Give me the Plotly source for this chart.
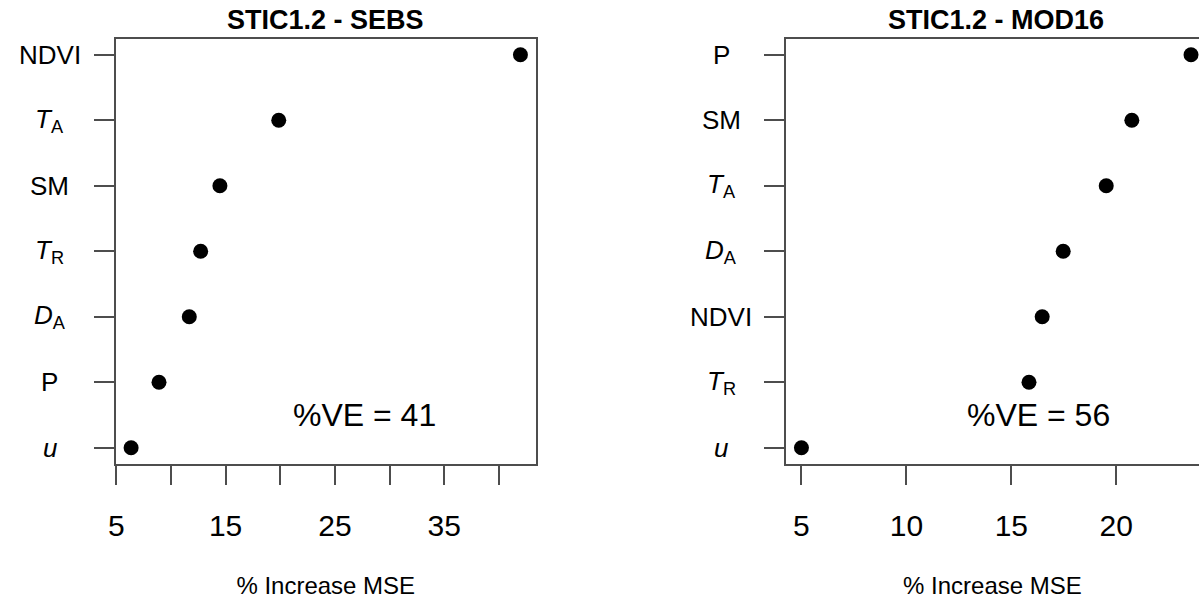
import plotly.graph_objects as go

# ---- data (top-to-bottom order as shown) ----
sebs_labels = ["NDVI", "<i>T</i><sub>A</sub>", "SM", "<i>T</i><sub>R</sub>", "<i>D</i><sub>A</sub>", "P", "<i>u</i>"]
sebs_values = [41.96, 19.86, 14.48, 12.72, 11.68, 8.91, 6.36]

mod16_labels = ["P", "SM", "<i>T</i><sub>A</sub>", "<i>D</i><sub>A</sub>", "NDVI", "<i>T</i><sub>R</sub>", "<i>u</i>"]
mod16_values = [23.56, 20.74, 19.52, 17.47, 16.47, 15.84, 5.00]

sebs_ticks = [5, 15, 25, 35]          # labelled ticks (unlabelled ticks every 5 in between)
mod16_ticks = [5, 10, 15, 20]

titles = ["STIC1.2 - SEBS", "STIC1.2 - MOD16"]
ve_texts = ["%VE = 41", "%VE = 56"]
xlabel = "% Increase MSE"

FONT = "Liberation Sans, Arial, sans-serif"
LINE = "#4d4d4d"

W, H = 1199, 606
def px_x(p):
    return p / W
def px_y(p):
    return (H - p) / H

fig = go.Figure()

fig.add_trace(go.Scatter(
    x=sebs_values, y=sebs_labels, mode="markers",
    marker=dict(size=15, color="black"), xaxis="x", yaxis="y", showlegend=False))
fig.add_trace(go.Scatter(
    x=mod16_values, y=mod16_labels, mode="markers",
    marker=dict(size=15, color="black"), xaxis="x2", yaxis="y2", showlegend=False))

ydom = [px_y(463.5), px_y(39)]

common_x = dict(showgrid=False, zeroline=False, showline=True, linecolor=LINE, linewidth=1.5,
                ticks="outside", ticklen=20, tickwidth=1.5, tickcolor=LINE,
                ticklabelstandoff=15,
                tickfont=dict(family=FONT, size=30, color="black"),
                title=dict(text=xlabel, font=dict(family=FONT, size=24, color="black"), standoff=36))
common_y = dict(showgrid=False, zeroline=False, showline=True, linecolor=LINE, linewidth=1.5,
                ticks="outside", ticklen=20, tickwidth=1.5, tickcolor=LINE,
                showticklabels=False, type="category", range=[-0.24, 6.24], domain=ydom)

fig.update_layout(
    width=W, height=H, margin=dict(l=0, r=0, t=0, b=0),
    plot_bgcolor="white", paper_bgcolor="white",
    xaxis=dict(domain=[px_x(108.3), px_x(531.5)], range=[4.94, 43.38],
               tickvals=sebs_ticks,
               minor=dict(tick0=5, dtick=5, ticks="outside", ticklen=20, tickwidth=1.5,
                          tickcolor=LINE, showgrid=False),
               anchor="y", mirror=True, **common_x),
    yaxis=dict(anchor="x", mirror=True, categoryorder="array", categoryarray=sebs_labels[::-1], **common_y),
    xaxis2=dict(domain=[px_x(783.1), 1.0], range=[4.258, 23.94],
                tickvals=mod16_ticks, anchor="y2", mirror=True, **common_x),
    yaxis2=dict(anchor="x2", mirror=False, categoryorder="array", categoryarray=mod16_labels[::-1], **common_y),
)

ann = []
# y labels (centered, as in the reference)
for lab in sebs_labels:
    ann.append(dict(x=px_x(42), xref="paper", y=lab, yref="y", text=lab, showarrow=False,
                    xanchor="center", yanchor="middle", font=dict(family=FONT, size=26, color="black")))
for lab in mod16_labels:
    ann.append(dict(x=px_x(718), xref="paper", y=lab, yref="y2", text=lab, showarrow=False,
                    xanchor="center", yanchor="middle", font=dict(family=FONT, size=26, color="black")))
# panel titles
for t, cx in zip(titles, [319.9, 994.8]):
    ann.append(dict(x=px_x(cx), xref="paper", y=px_y(20.5), yref="paper", text="<b>%s</b>" % t,
                    showarrow=False, xanchor="center", yanchor="middle",
                    font=dict(family=FONT, size=27, color="black")))
# %VE annotations
ann.append(dict(x=27.7, xref="x", y=0.5, yref="y", text=ve_texts[0], showarrow=False,
                xanchor="center", yanchor="middle", font=dict(family=FONT, size=32, color="black")))
ann.append(dict(x=16.3, xref="x2", y=0.5, yref="y2", text=ve_texts[1], showarrow=False,
                xanchor="center", yanchor="middle", font=dict(family=FONT, size=32, color="black")))
fig.update_layout(annotations=ann)

fig.write_html("out.html", config={"displayModeBar": False},
               post_script="document.body.style.margin='0';document.body.style.padding='0';document.documentElement.style.overflow='hidden';")
